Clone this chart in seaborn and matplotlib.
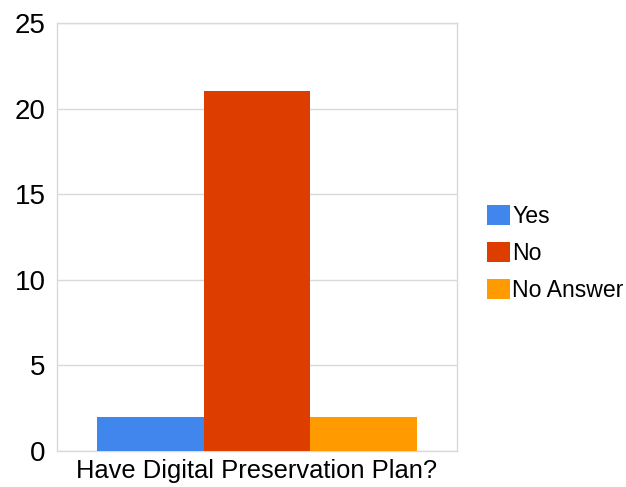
import pandas as pd
import matplotlib.pyplot as plt
import seaborn as sns

question = ["Have Digital Preservation Plan?"]
answers = ["Yes", "No", "No Answer"]
counts = [2, 21, 2]
colors = ["#4186EC", "#DE3D00", "#FF9A00"]
yticks = [0, 5, 10, 15, 20, 25]

df = pd.DataFrame({"question": question * len(answers), "answer": answers, "count": counts})

sns.set_style("white")
plt.rcParams["font.family"] = ["Liberation Sans", "DejaVu Sans"]
plt.rcParams["text.color"] = "black"
plt.rcParams["xtick.color"] = "black"
plt.rcParams["ytick.color"] = "black"

fig = plt.figure(figsize=(6.26, 4.87), dpi=100)
ax = fig.add_axes([0.091, 0.074, 0.639, 0.879])

sns.barplot(data=df, x="question", y="count", hue="answer", hue_order=answers,
            palette=colors, width=0.8, gap=0, saturation=1, linewidth=0,
            ax=ax, zorder=3)

ax.set_xlim(-0.5, 0.5)
ax.set_ylim(0, 25)
ax.set_yticks(yticks)
ax.set_yticklabels([str(t) for t in yticks], fontsize=20)
ax.tick_params(axis="y", length=4, color="#d4d4d4", labelcolor="black", width=1, pad=4)
ax.tick_params(axis="x", length=0, labelsize=18.4, labelcolor="black", pad=6)
ax.set_xlabel("")
ax.set_ylabel("")
ax.grid(axis="y", color="#d9d9d9", linewidth=1, zorder=0)
for s in ax.spines.values():
    s.set_color("#d9d9d9")
    s.set_linewidth(1)

handles, labels = ax.get_legend_handles_labels()
leg = ax.legend(handles, labels, loc="center left", bbox_to_anchor=(0.778, 0.480),
                bbox_transform=fig.transFigure, frameon=False, fontsize=16.6,
                handlelength=1.0, handleheight=1.0, handletextpad=0.1,
                labelspacing=0.6, borderpad=0, borderaxespad=0)
for t in leg.get_texts():
    t.set_color("black")

fig.savefig("out.png", dpi=100)
